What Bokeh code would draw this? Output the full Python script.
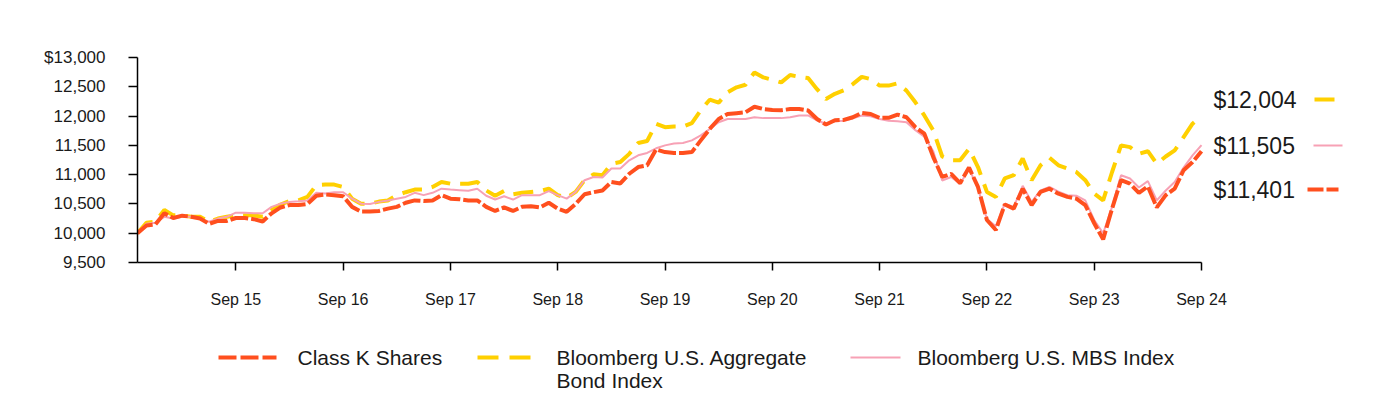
from bokeh.plotting import figure
from bokeh.models import Range1d, FixedTicker, Label
from bokeh.layouts import column
from bokeh.embed import file_html
from bokeh.resources import INLINE
from bokeh.core.properties import value

# Monthly index: 0 = Oct 2014 ... 119 = Sep 2024
months = list(range(120))

class_k = [10000, 10130, 10150, 10340, 10260, 10300, 10280, 10250, 10160, 10210,
           10210, 10260, 10260, 10240, 10200, 10340, 10440, 10480, 10480, 10500,
           10640, 10660, 10650, 10630, 10450, 10370, 10370, 10380, 10420, 10450,
           10520, 10560, 10550, 10560, 10650, 10590, 10580, 10560, 10560, 10450,
           10380, 10440, 10380, 10450, 10460, 10440, 10520, 10420, 10365, 10500,
           10665, 10700, 10730, 10875, 10850, 11015, 11130, 11160, 11430, 11385,
           11370, 11370, 11385, 11585, 11780, 11950, 12035, 12050, 12065, 12160,
           12120, 12105, 12100, 12120, 12120, 12095, 11950, 11855, 11930, 11935,
           11980, 12055, 12035, 11970, 11970, 12025, 11980, 11810, 11700, 11300,
           10960, 11015, 10855, 11120, 10790, 10225, 10055, 10490, 10420, 10760,
           10480, 10705, 10760, 10675, 10620, 10590, 10480, 10170, 9895, 10420,
           10905, 10845, 10690, 10800, 10440, 10650, 10760, 11075, 11215, 11401]

agg_bond = [10000, 10180, 10195, 10395, 10305, 10305, 10280, 10280, 10195, 10250,
            10280, 10305, 10305, 10305, 10280, 10395, 10490, 10550, 10560, 10620,
            10820, 10830, 10830, 10790, 10590, 10505, 10505, 10540, 10560, 10650,
            10700, 10745, 10745, 10790, 10875, 10845, 10845, 10845, 10875, 10730,
            10640, 10720, 10665, 10690, 10705, 10720, 10760, 10650, 10605, 10705,
            10905, 11005, 10990, 11185, 11215, 11355, 11540, 11575, 11870, 11810,
            11820, 11820, 11880, 12100, 12280, 12230, 12405, 12490, 12535, 12745,
            12660, 12620, 12575, 12700, 12670, 12650, 12460, 12290, 12380, 12440,
            12545, 12670, 12630, 12520, 12520, 12560, 12435, 12235, 12010, 11755,
            11310, 11245, 11245, 11440, 11130, 10705, 10620, 10935, 10990, 11275,
            10905, 11160, 11290, 11160, 11105, 11045, 10905, 10675, 10560, 11045,
            11500, 11470, 11355, 11400, 11185, 11310, 11415, 11640, 11870, 12004]

mbs = [10000, 10160, 10180, 10280, 10250, 10280, 10280, 10250, 10195, 10250,
       10280, 10350, 10350, 10340, 10340, 10450, 10505, 10535, 10545, 10560,
       10690, 10680, 10700, 10700, 10590, 10505, 10500, 10535, 10560, 10590,
       10620, 10690, 10650, 10690, 10760, 10745, 10735, 10725, 10760, 10640,
       10575, 10630, 10575, 10650, 10650, 10650, 10720, 10650, 10590, 10705,
       10905, 10960, 10950, 11105, 11105, 11245, 11330, 11370, 11450, 11500,
       11530, 11540, 11585, 11670, 11780, 11895, 11950, 11950, 11950, 11980,
       11965, 11965, 11965, 11980, 12010, 12010, 11925, 11870, 11910, 11920,
       11960, 12010, 11995, 11950, 11920, 11910, 11895, 11760, 11650, 11400,
       10900, 10960, 10840, 11100, 10770, 10240, 10120, 10505, 10450, 10810,
       10535, 10730, 10790, 10710, 10650, 10640, 10560, 10225, 10000, 10450,
       10990, 10935, 10780, 10890, 10560, 10730, 10875, 11120, 11330, 11505]

x_tick_pos = [11, 23, 35, 47, 59, 71, 83, 95, 107, 119]
x_tick_labels = ["Sep 15", "Sep 16", "Sep 17", "Sep 18", "Sep 19",
                 "Sep 20", "Sep 21", "Sep 22", "Sep 23", "Sep 24"]
y_ticks = [9500, 10000, 10500, 11000, 11500, 12000, 12500, 13000]

ORANGE = "#FF4F1E"
GOLD = "#FFD000"
PINK = "#F7A1B5"
FONT = "Liberation Sans"
TXT = "#1a1a1a"

LEFT = 137
TOP = 57
FRAME_W = 1239
FRAME_H = 205
PX_PER_UNIT = 1064 / 119
x_end = FRAME_W / PX_PER_UNIT

p = figure(frame_width=FRAME_W, frame_height=FRAME_H,
           min_border_left=LEFT, min_border_right=0, min_border_top=TOP,
           min_border_bottom=320 - TOP - FRAME_H,
           x_range=Range1d(0, x_end), y_range=Range1d(9500, 13000),
           toolbar_location=None, output_backend="svg")
p.outline_line_color = None
p.grid.visible = False

p.line(months, agg_bond, line_color=GOLD, line_width=4, line_dash="20 10")
p.line(months, mbs, line_color=PINK, line_width=2)
p.line(months, class_k, line_color=ORANGE, line_width=4, line_dash="18 3")

xa = p.xaxis[0]
xa.ticker = FixedTicker(ticks=x_tick_pos)
xa.major_label_overrides = {t: l for t, l in zip(x_tick_pos, x_tick_labels)}
xa.bounds = (0, 119)
xa.axis_line_color = "black"
xa.axis_line_width = 1.5
xa.major_tick_line_color = "black"
xa.major_tick_line_width = 1.5
xa.major_tick_out = 8
xa.major_tick_in = 0
xa.minor_tick_out = 0
xa.minor_tick_in = 0
xa.major_label_standoff = 20
xa.major_label_text_font = FONT
xa.major_label_text_font_size = "16px"
xa.major_label_text_color = TXT

ya = p.yaxis[0]
ya.ticker = FixedTicker(ticks=y_ticks)
ya.major_label_overrides = {t: ("$" if t == max(y_ticks) else "") + f"{t:,}" for t in y_ticks}
ya.axis_line_color = "black"
ya.axis_line_width = 1.5
ya.major_tick_line_color = "black"
ya.major_tick_line_width = 1.5
ya.major_tick_out = 9
ya.major_tick_in = 0
ya.minor_tick_out = 0
ya.minor_tick_in = 0
ya.major_label_standoff = 23
ya.major_label_text_font = FONT
ya.major_label_text_font_size = "17px"
ya.major_label_text_color = TXT


def to_x(px):
    return (px - LEFT) / PX_PER_UNIT


def to_y(py):
    return 13000 - (py - TOP) * 3500 / FRAME_H


end_items = [
    (agg_bond[-1], 99, GOLD, 4, "20 10", 1314, 1336),
    (mbs[-1], 145, PINK, 2, "solid", 1313, 1342),
    (class_k[-1], 189, ORANGE, 4, "16 3", 1307, 1338),
]
for val, py, col, lw, dash, x0, x1 in end_items:
    p.add_layout(Label(x=to_x(1213), y=to_y(py), text=f"${val:,}",
                       text_baseline="middle", text_align="left",
                       text_font=FONT, text_font_size="23px", text_color=TXT))
    p.line([to_x(x0), to_x(x1)], [to_y(py), to_y(py)], line_color=col,
           line_width=lw, line_dash=dash)

# legend strip (coordinates = page pixels)
LEG_TOP = 320
LEG_H = 80
lg = figure(frame_width=FRAME_W, frame_height=LEG_H,
            min_border_left=LEFT, min_border_right=0, min_border_top=0, min_border_bottom=0,
            x_range=Range1d(LEFT, LEFT + FRAME_W), y_range=Range1d(LEG_TOP + LEG_H, LEG_TOP),
            toolbar_location=None, output_backend="svg",
            x_axis_location=None, y_axis_location=None)
lg.outline_line_color = None
lg.grid.visible = False

leg = [
    (ORANGE, 4, "18 4", 218, 276, 297, ["Class K Shares"]),
    (GOLD, 4, "21 11", 477, 530, 556, ["Bloomberg U.S. Aggregate", "Bond Index"]),
    (PINK, 2, "solid", 850, 900, 917, ["Bloomberg U.S. MBS Index"]),
]
for col, lw, dash, x0, x1, tx, lines in leg:
    lg.line([x0, x1], [357, 357], line_color=col, line_width=lw, line_dash=dash)
    for k, t in enumerate(lines):
        lg.text(x=[tx], y=[357 + 23 * k], text=[t], text_baseline="middle",
                text_align="left", text_font=value(FONT), text_font_size="21px",
                text_color=TXT)

layout = column(p, lg, spacing=0)
open("out.html", "w").write(file_html(layout, INLINE))
